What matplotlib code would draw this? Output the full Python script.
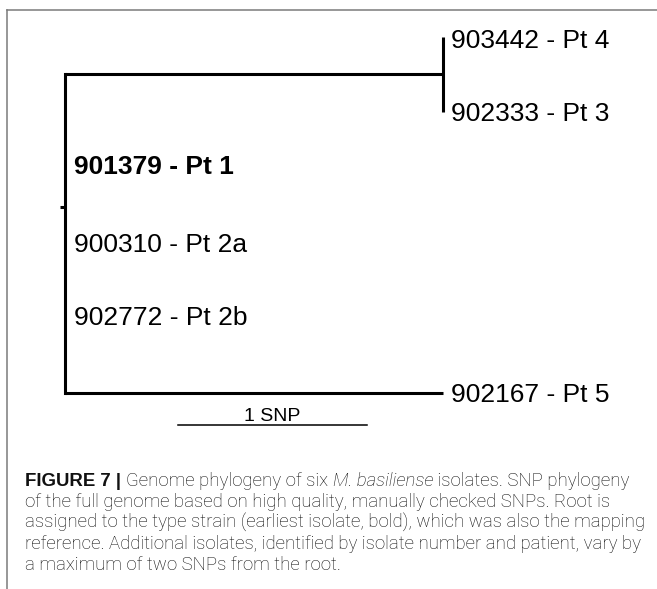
import matplotlib.pyplot as plt
from matplotlib.lines import Line2D

# tips, top to bottom, with distance from the root in SNPs
tip_labels = ['903442 - Pt 4', '902333 - Pt 3', '901379 - Pt 1',
              '900310 - Pt 2a', '902772 - Pt 2b', '902167 - Pt 5']
tip_snps = [2, 2, 0, 0, 0, 2]
tip_bold = [False, False, True, False, False, False]
clade_members = [0, 1]      # Pt 4 and Pt 3 share one node
clade_snps = 2
scale_snps = 1

caption = [
    [('FIGURE 7 | ', 'bold'), ('Genome phylogeny of six ', 'light'),
     ('M. basiliense', 'italic'), (' isolates. SNP phylogeny', 'light')],
    [('of the full genome based on high quality, manually checked SNPs. Root is', 'light')],
    [('assigned to the type strain (earliest isolate, bold), which was also the mapping', 'light')],
    [('reference. Additional isolates, identified by isolate number and patient, vary by', 'light')],
    [('a maximum of two SNPs from the root.', 'light')],
]

# layout (rows of the drawn tree)
tip_rows = [0, 1.05, 1.81, 2.9, 3.93, 5]
label_nudge = [-3.0, -1.5, -1.0, -1.0, -1.0, -1.5]   # points, vertical
root_row = 2.39
root_stub = 0.028
px_per_snp = 189.0
px_per_row = 71.2
W, H = 657, 589
root_px, top_px = 65, 37

plt.rcParams['font.family'] = ['Liberation Sans', 'DejaVu Sans']

fig = plt.figure(figsize=(W / 100, H / 100), dpi=100)
ax = fig.add_axes([0, 0, 1, 1])
ax.set_xlim(-root_px / px_per_snp, (W - root_px) / px_per_snp)
ax.set_ylim((H - top_px) / px_per_row, -top_px / px_per_row)
ax.axis('off')

lw = 2.2
clade_row = sum(tip_rows[i] for i in clade_members) / len(clade_members)
ax.plot([0, clade_snps], [clade_row, clade_row], color='black', lw=lw, solid_capstyle='butt')
ax.plot([clade_snps, clade_snps], [tip_rows[0], tip_rows[1]], color='black', lw=lw, solid_capstyle='butt')
ax.plot([0, 0], [clade_row, tip_rows[5]], color='black', lw=lw, solid_capstyle='projecting')
ax.plot([0, tip_snps[5]], [tip_rows[5], tip_rows[5]], color='black', lw=lw, solid_capstyle='butt')
ax.plot([-root_stub, 0], [root_row, root_row], color='black', lw=lw, solid_capstyle='butt')

for lab, d, r, b, dy in zip(tip_labels, tip_snps, tip_rows, tip_bold, label_nudge):
    off = 5.5 if d > 0 else 6.5
    ax.annotate(lab, (d, r), xytext=(off, dy), textcoords='offset points',
                va='center', ha='left', fontsize=19,
                fontweight='bold' if b else 'normal', color='black')

# scale bar
sb_x0 = 0.598
sb_row = 5.45
ax.plot([sb_x0, sb_x0 + scale_snps], [sb_row, sb_row], color='black', lw=1.1)
ax.annotate('1 SNP', (sb_x0 + scale_snps / 2, sb_row), xytext=(0, 0),
            textcoords='offset points', ha='center', va='bottom', fontsize=14)

# frame around the figure panel
frame_c = '#7a7a7a'
fig.add_artist(Line2D([7 / W, 1], [1 - 10 / H, 1 - 10 / H], color=frame_c, lw=1.1))
fig.add_artist(Line2D([7 / W, 7 / W], [0, 1 - 10 / H], color=frame_c, lw=1.1))

# caption, drawn piece by piece so styles can mix on a line
renderer = fig.canvas.get_renderer()
styles = {
    'bold': dict(fontweight='bold', color='#111111', family=['Liberation Sans', 'DejaVu Sans']),
    'light': dict(fontweight='light', color='#0a0a0a', family=['Roboto', 'DejaVu Sans']),
    'italic': dict(fontweight='light', fontstyle='italic', color='#0a0a0a',
                   family=['Roboto', 'DejaVu Sans']),
}
base_y = 486
for i, line in enumerate(caption):
    x = 25
    y = base_y + i * 21
    for txt, st in line:
        t = fig.text(x / W, 1 - y / H, txt, fontsize=13.4, va='baseline', ha='left',
                     **styles[st])
        x = t.get_window_extent(renderer).x1

fig.savefig('out.png', dpi=100)
